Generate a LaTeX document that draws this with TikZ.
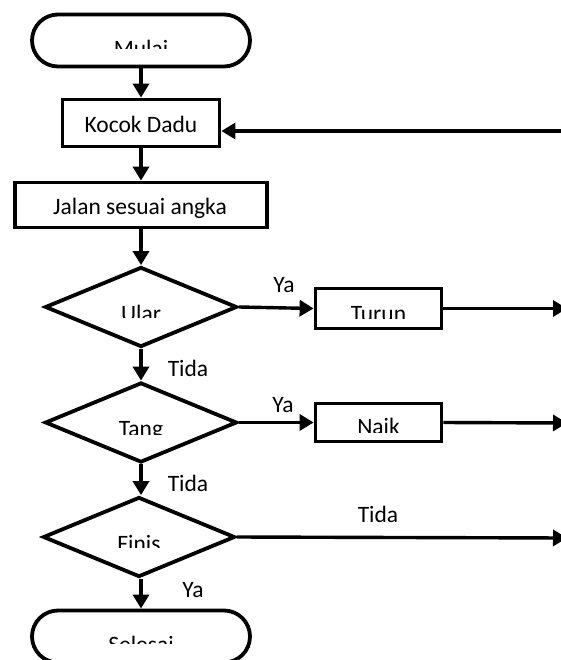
\documentclass[tikz,border=0pt]{standalone}
\usepackage{fontspec}
\setmainfont{Carlito}
\usetikzlibrary{arrows.meta, shapes.geometric, shapes.misc}

\begin{document}
\begin{tikzpicture}[x=1pt, y=-1pt,
		txt/.style={font=\fontsize{23.5}{27}\selectfont, inner sep=0pt},
		term/.style={rounded rectangle, draw, line width=3.8pt, minimum width=218pt, minimum height=52pt, inner sep=0pt},
		proc/.style={rectangle, draw, line width=3.8pt, inner sep=0pt},
		decide/.style={diamond, draw, line width=3.8pt, minimum width=192pt, minimum height=80pt, inner sep=0pt},
		arr/.style={line width=3.4pt, -{Triangle[length=14pt, width=16pt]}}]
			\useasboundingbox (0,0) rectangle (560,660);
			% Shapes
			\node[term] (mulai) at (141, 40.5) {};
			\node[proc, minimum width=157pt, minimum height=47pt] (kocok) at (141, 123) {};
			\node[proc, minimum width=252pt, minimum height=45pt] (jalan) at (141, 205) {};
			\node[decide] (ular) at (141, 307) {};
			\node[decide] (tangga) at (141, 422.5) {};
			\node[decide] (finis) at (139, 537) {};
			\node[term] (selesai) at (141, 636.5) {};
			\node[proc, minimum width=126pt, minimum height=40pt] (turun) at (378.5, 308.5) {};
			\node[proc, minimum width=126pt, minimum height=38pt] (naik) at (378.5, 422.5) {};
			% Texts in the boxes
			\node[txt, anchor=base] (kocok-t) at (141, 132.5) {Kocok Dadu};
			\node[txt, anchor=base] (jalan-t) at (140, 214.5) {Jalan sesuai angka};
			% Texts cut off at the bottom
			\foreach \nm/\px/\py/\cy/\tx in {mulai-t/141/42/49/Mulai, ular-t/141/307/317/Ular,
				tangga-t/141/422/434/Tang, finis-t/139/537/547/Finis, selesai-t/141/638/643/Selesai,
				turun-t/378.5/307/318/Turun, naik-t/378.5/420/432/Naik} {
				\begin{scope}
					\clip (\px-90, \py-12) rectangle (\px+90, \cy);
					\node[txt, anchor=base] (\nm) at (\px, \py+14.5) {\tx};
				\end{scope}
			}
			% Free ends at the right edge
			\coordinate (back) at (562, 131);
			\coordinate (out1) at (567, 308.5);
			\coordinate (out2) at (567, 423);
			\coordinate (out3) at (567, 538);
			% Main line
			\draw[arr] (mulai) -- (kocok);
			\draw[arr] (kocok) -- (jalan);
			\draw[arr] (jalan) -- (ular);
			\draw[arr] (ular) -- (tangga);
			\draw[arr] (tangga) -- (finis.north -| tangga.south);
			\draw[arr] (finis.south -| selesai.north) -- (selesai);
			% Branches
			\draw[arr] (ular.east) -- (turun.west);
			\draw[arr] (tangga.east) -- (naik.west);
			\draw[arr] (turun.east) -- (out1);
			\draw[arr] (naik.east) -- (out2);
			\draw[arr] (finis.east) -- (out3);
			\draw[arr] (back) -- (back -| kocok.east);
			% Labels
			\node[txt, anchor=base] (ya1) at (284, 292) {Ya};
			\node[txt, anchor=base] (ya2) at (283, 412) {Ya};
			\node[txt, anchor=base] (tida1) at (188, 376) {Tida};
			\node[txt, anchor=base] (tida2) at (188, 491) {Tida};
			\node[txt, anchor=base] (tida3) at (378, 522) {Tida};
			\node[txt, anchor=base] (ya3) at (193, 597) {Ya};
\end{tikzpicture}
\end{document}
